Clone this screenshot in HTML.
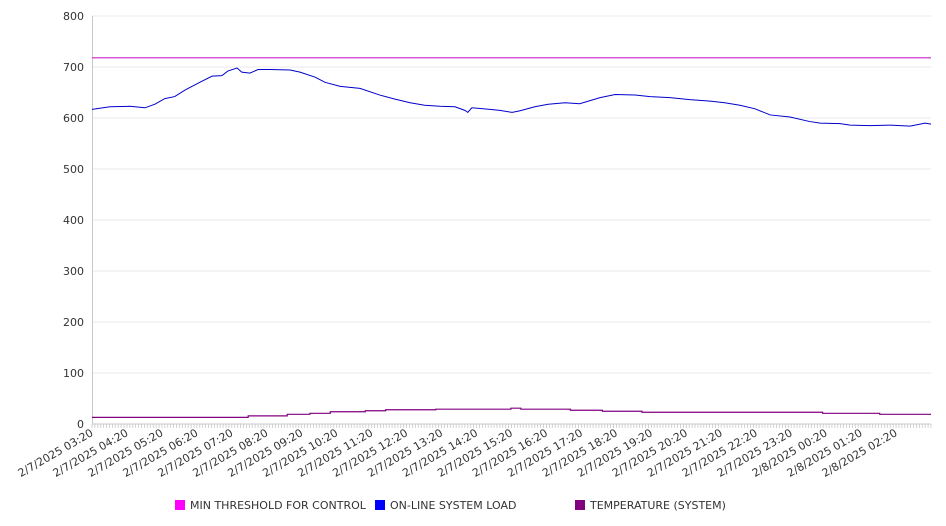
<!DOCTYPE html>
<html><head><meta charset="utf-8"><style>
body{margin:0;background:#fff;}
svg{display:block;font-family:"DejaVu Sans","Liberation Sans",sans-serif;}
</style></head><body>
<svg id="c" width="946" height="526"></svg>
<script>
const yTicks=[0,100,200,300,400,500,600,700,800];
const xLabels=["2/7/2025 03:20","2/7/2025 04:20","2/7/2025 05:20","2/7/2025 06:20","2/7/2025 07:20","2/7/2025 08:20","2/7/2025 09:20","2/7/2025 10:20","2/7/2025 11:20","2/7/2025 12:20","2/7/2025 13:20","2/7/2025 14:20","2/7/2025 15:20","2/7/2025 16:20","2/7/2025 17:20","2/7/2025 18:20","2/7/2025 19:20","2/7/2025 20:20","2/7/2025 21:20","2/7/2025 22:20","2/7/2025 23:20","2/8/2025 00:20","2/8/2025 01:20","2/8/2025 02:20"];
const threshold=718;
const loadMinutes=[0,31,65,91,108,125,142,160,185,206,223,233,249,257,271,285,305,340,357,383,400,426,460,494,520,546,571,597,623,640,645,652,683,700,721,734,760,783,812,837,872,898,932,958,992,1026,1061,1086,1112,1138,1164,1198,1232,1250,1284,1301,1335,1370,1404,1430,1440];
const loadValues=[617,622,623,620,627,638,642,655,670,682,683,692,698,690,688,695,695,694,690,680,670,662,658,645,637,630,625,623,622,615,611,620,617,615,611,614,622,627,630,628,640,646,645,642,640,636,633,630,625,618,606,602,593,590,589,586,585,586,584,590,588];
const tempMinutes=[0,268,335,374,409,469,504,590,719,736,821,876,944,1254,1352];
const tempValues=[13,16,19,21,24,26,28,29,31,29,27,25,23,21,19];

const NS="http://www.w3.org/2000/svg",svg=document.getElementById('c');
const X0=92,X1=931,Y0=424,Y1=16,TOTAL=1440;
const xs=m=>X0+(m/TOTAL)*(X1-X0);
const ys=v=>Y0-(v/800)*(Y0-Y1);
function mk(t,a,p){const e=document.createElementNS(NS,t);for(const k in a)e.setAttribute(k,a[k]);(p||svg).appendChild(e);return e;}

yTicks.forEach(v=>{
  const g=mk('line',{x1:X0,x2:X1,y1:ys(v),y2:ys(v),stroke:v?'#e8e8e8':'#c8c8c8','stroke-width':1});
  
  
  const t=mk('text',{x:84,y:ys(v)+4,'text-anchor':'end','font-size':11,fill:'#333'});
  t.textContent=v;
  
  
});
const ax=mk('line',{x1:X0+0.5,x2:X0+0.5,y1:Y1,y2:Y0,stroke:'#c8c8c8'});


for(let i=0;i<=288;i++){const x=X0+i*(X1-X0)/288;
  const tk=mk('line',{x1:x,x2:x,y1:Y0,y2:Y0+4,stroke:'#c8c8c8','stroke-width':0.8});
  
  
}
xLabels.forEach((l,i)=>{
  const x=xs(i*60)+2,y=435;
  const t=mk('text',{x:x,y:y,'text-anchor':'end','font-size':11,fill:'#333',transform:`rotate(-30 ${x} ${y})`});
  t.textContent=l;
  
  
});
const th=mk('line',{x1:X0,x2:X1,y1:ys(threshold),y2:ys(threshold),stroke:'#cc22cc','stroke-width':1.2});


const lp=mk('polyline',{points:loadMinutes.map((m,i)=>xs(m)+','+ys(loadValues[i])).join(' '),fill:'none',stroke:'#0000cc','stroke-width':1});


let pts=[];
tempMinutes.forEach((m,i)=>{if(i>0)pts.push(xs(m)+','+ys(tempValues[i-1]));pts.push(xs(m)+','+ys(tempValues[i]));});
pts.push(xs(TOTAL)+','+ys(tempValues[tempValues.length-1]));
const tp=mk('polyline',{points:pts.join(' '),fill:'none',stroke:'#800080','stroke-width':1.2});


[["MIN THRESHOLD FOR CONTROL","#ff00ff",175],["ON-LINE SYSTEM LOAD","#0000ff",375],["TEMPERATURE (SYSTEM)","#800080",575]].forEach(([n,c,x])=>{
  const r=mk('rect',{x:x,y:500,width:10,height:10,fill:c});
  
  
  const t=mk('text',{x:x+15,y:509,'font-size':11,fill:'#333'});
  t.textContent=n;
  
  
});
</script>
</body></html>
